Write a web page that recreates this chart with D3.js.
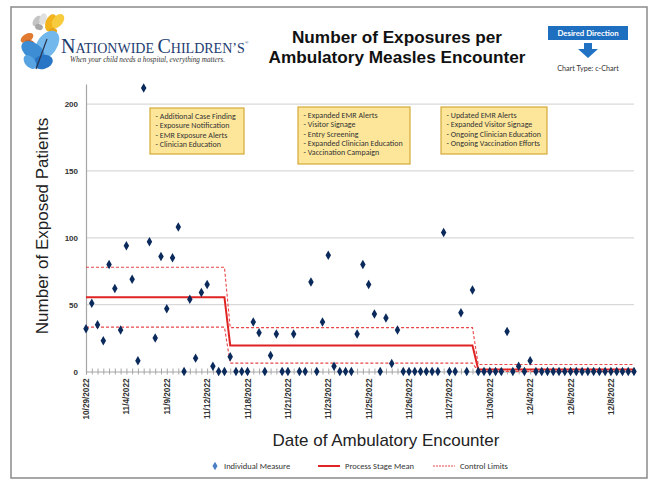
<!DOCTYPE html>
<html>
<head>
<meta charset="utf-8">
<script src="https://cdn.jsdelivr.net/npm/d3@7"></script>
<style>
  html, body { margin: 0; padding: 0; background: #fff; }
  svg { display: block; }
</style>
</head>
<body>
<svg id="chart" width="651" height="481"></svg>
<script>
// ---------------- DATA ----------------
const values = [
  32, 51, 35, 23, 80, 62, 31, 94, 69, 8,
  212, 97, 25, 86, 47, 85, 108, 0, 54, 10,
  59, 65, 4, 0, 0, 11, 0, 0, 0, 37,
  29, 0, 12, 28, 0, 0, 28, 0, 0, 67,
  0, 37, 87, 4, 0, 0, 0, 28, 80, 65,
  43, 0, 40, 6, 31, 0, 0, 0, 0, 0,
  0, 0, 104, 0, 0, 44, 0, 61, 0, 0,
  0, 0, 0, 30, 0, 4, 0, 8, 0, 0,
  0, 0, 0, 0, 0, 0, 0, 0, 0, 0,
  0, 0, 0, 0, 0, 0
];
const tickLabels = ["10/29/2022","11/4/2022","11/9/2022","11/12/2022","11/18/2022","11/21/2022",
  "11/23/2022","11/25/2022","11/26/2022","11/27/2022","11/30/2022","12/4/2022","12/6/2022","12/8/2022"];
const tickLabelStep = 7;
const stageStart = [0, 25, 68];
const stageMean = [55.6, 19.5, 1.5];
const stageUCL  = [78, 32.8, 5.2];
const stageLCL  = [33.2, 6.3, 0];
const yTicks = [0, 50, 100, 150, 200];
const annotations = [
  ["- Additional Case Finding", "- Exposure Notification", "- EMR Exposure Alerts", "- Clinician Education"],
  ["- Expanded EMR Alerts", "- Visitor Signage", "- Entry Screening", "- Expanded Clinician Education", "- Vaccination Campaign"],
  ["- Updated EMR Alerts", "- Expanded Visitor Signage", "- Ongoing Clinician Education", "- Ongoing Vaccination Efforts"]
];
const titleLines = ["Number of Exposures per", "Ambulatory Measles Encounter"];
const legendItems = ["Individual Measure", "Process Stage Mean", "Control Limits"];

// ---------------- SETUP ----------------
const svg = d3.select("#chart");
const x = d3.scaleLinear().domain([0, values.length - 1]).range([86, 634]);
const y = d3.scaleLinear().domain([0, 215]).range([371.5, 84]);

const stageOf = i => { let s = 0; stageStart.forEach((st, k) => { if (i >= st) s = k; }); return s; };
const idx = d3.range(values.length);

// outer frame
svg.append("rect").attr("x", 11).attr("y", 7).attr("width", 636).attr("height", 471)
  .attr("fill", "#fff").attr("stroke", "#8a8a8a").attr("stroke-width", 1.5);

// ---------------- LOGO ----------------
const logo = svg.append("g");
function wing(cx, cy, rx, ry, rot, fill) {
  logo.append("ellipse").attr("cx", cx).attr("cy", cy).attr("rx", rx).attr("ry", ry)
    .attr("transform", `rotate(${rot},${cx},${cy})`).attr("fill", fill);
}
// grey butterfly
wing(37, 21, 6, 3.5, -55, "#c4c4c4"); wing(43, 19, 6, 3.5, -75, "#e0e0e0"); wing(39, 27, 4, 3, 20, "#a8a8a8");
// yellow butterfly
wing(51, 23, 5.5, 9, 20, "#f2b31c"); wing(58, 21, 5, 8, 38, "#f7cb3e"); wing(53, 31, 4, 3, 0, "#e6a416");
// orange butterfly
wing(27, 38, 7, 4, -30, "#e07a30"); wing(30, 43, 5, 3, 20, "#c5622a");
// big blue butterfly
wing(47, 45, 16, 10, -55, "#72b8ec"); wing(33, 51, 13, 8, 35, "#3d8dd5");
wing(43, 62, 10, 7, -15, "#2775c4"); wing(30, 62, 8, 5, 50, "#58a3e2");
logo.append("path").attr("d", "M36,69 L47,39").attr("stroke", "#2b3550").attr("stroke-width", 1.2);

const brand = svg.append("text").attr("x", 61).attr("y", 53)
  .attr("font-family", "Liberation Serif, Times New Roman, serif").attr("fill", "#1d3c70");
brand.append("tspan").attr("font-size", 20).text("N");
brand.append("tspan").attr("font-size", 14).text("ATIONWIDE ");
brand.append("tspan").attr("font-size", 20).text("C");
brand.append("tspan").attr("font-size", 14).text("HILDREN\u2019S");
brand.append("tspan").attr("font-size", 5).attr("dy", -9).text("\u00AE");
svg.append("text").attr("x", 70).attr("y", 62)
  .attr("font-family", "Liberation Serif, serif").attr("font-style", "italic").attr("font-size", 7.2)
  .attr("fill", "#333").text("When your child needs a hospital, everything matters.");

// ---------------- TITLE ----------------
svg.selectAll(".title").data(titleLines).join("text").attr("class", "title")
  .attr("x", 397).attr("y", (d, i) => 43 + i * 20).attr("text-anchor", "middle")
  .attr("font-family", "Liberation Sans, Arial, sans-serif").attr("font-weight", "bold")
  .attr("font-size", 17.2).attr("fill", "#111").text(d => d);

// desired direction
svg.append("rect").attr("x", 548).attr("y", 26).attr("width", 80).attr("height", 14).attr("fill", "#1f6fc0");
svg.append("text").attr("x", 588).attr("y", 36).attr("text-anchor", "middle")
  .attr("font-family", "Lato, Open Sans, sans-serif").attr("font-weight", "bold").attr("font-size", 7.8)
  .attr("fill", "#fff").text("Desired Direction");
svg.append("path").attr("d", "M584,43 L592,43 L592,49 L598,49 L588,58 L578,49 L584,49 Z").attr("fill", "#2272c3");
svg.append("text").attr("x", 588).attr("y", 71).attr("text-anchor", "middle")
  .attr("font-family", "Lato, Open Sans, sans-serif").attr("font-size", 7.2).attr("fill", "#333")
  .text("Chart Type: c-Chart");

// ---------------- GRID & AXES ----------------
const plot = svg.append("g");
plot.selectAll(".grid").data(yTicks.filter(t => t > 0)).join("line").attr("class", "grid")
  .attr("x1", 86).attr("x2", 634).attr("y1", d => y(d)).attr("y2", d => y(d))
  .attr("stroke", "#d9d9d9").attr("stroke-width", 1.3);

const yAxis = plot.append("g").attr("transform", "translate(86,0)")
  .call(d3.axisLeft(y).tickValues(yTicks).tickSize(0).tickPadding(8));
yAxis.select(".domain").attr("stroke", "#a6a6a6").attr("stroke-width", 1.2);
yAxis.selectAll("text").attr("font-family", "Liberation Sans, Arial, sans-serif")
  .attr("font-weight", "bold").attr("font-size", 8).attr("fill", "#333");

const xAxis = plot.append("g").attr("transform", `translate(0,${y(0)})`)
  .call(d3.axisBottom(x).tickValues(idx).tickSize(3).tickFormat(""));
xAxis.select(".domain").attr("stroke", "#a6a6a6").attr("stroke-width", 1.2);
xAxis.selectAll(".tick line").attr("y1", -3).attr("stroke", "#a6a6a6");

plot.selectAll(".xlab").data(tickLabels).join("text").attr("class", "xlab")
  .attr("transform", (d, i) => `translate(${x(i * tickLabelStep) + 3},${y(0) + 7}) rotate(-90)`)
  .attr("text-anchor", "end")
  .attr("font-family", "Liberation Sans, Arial, sans-serif").attr("font-weight", "bold")
  .attr("font-size", 8.2).attr("fill", "#333").text(d => d);

// axis titles
svg.append("text").attr("transform", "translate(48,226) rotate(-90)").attr("text-anchor", "middle")
  .attr("font-family", "Liberation Sans, Arial, sans-serif").attr("font-size", 17).attr("fill", "#222")
  .text("Number of Exposed Patients");
svg.append("text").attr("x", 386).attr("y", 446).attr("text-anchor", "middle")
  .attr("font-family", "Liberation Sans, Arial, sans-serif").attr("font-size", 17).attr("fill", "#222")
  .text("Date of Ambulatory Encounter");

// ---------------- ANNOTATION BOXES ----------------
const boxPos = [[150, 108, 94, 46], [298, 107, 112, 57], [441, 107, 106, 47]];
annotations.forEach((lines, k) => {
  const [bx, by, bw, bh] = boxPos[k];
  const g = svg.append("g");
  g.append("rect").attr("x", bx).attr("y", by).attr("width", bw).attr("height", bh)
    .attr("fill", "#fde69a").attr("stroke", "#d4a93a").attr("stroke-width", 1.2);
  g.selectAll("text").data(lines).join("text").attr("x", bx + 5.5).attr("y", (d, i) => by + 11 + i * 9.3)
    .attr("font-family", "Carlito, Lato, sans-serif").attr("font-size", 8).attr("fill", "#333")
    .text(d => d);
});

// ---------------- LINES ----------------
const lineGen = acc => d3.line().x(i => x(i)).y(i => y(acc(i)));
plot.append("path").datum(idx).attr("fill", "none").attr("stroke", "#e8474a").attr("stroke-width", 1.1)
  .attr("stroke-dasharray", "3,2").attr("d", lineGen(i => stageUCL[stageOf(i)]));
plot.append("path").datum(idx).attr("fill", "none").attr("stroke", "#e8474a").attr("stroke-width", 1.1)
  .attr("stroke-dasharray", "3,2").attr("d", lineGen(i => stageLCL[stageOf(i)]));
plot.append("path").datum(idx).attr("fill", "none").attr("stroke", "#e02424").attr("stroke-width", 2)
  .attr("d", lineGen(i => stageMean[stageOf(i)]));

// ---------------- POINTS ----------------
const diamond = d3.symbol().type(d3.symbolDiamond).size(26);
plot.selectAll(".pt").data(values).join("path").attr("class", "pt")
  .attr("transform", (d, i) => `translate(${x(i)},${y(d)})`)
  .attr("d", diamond).attr("fill", "#0b2a5c");

// ---------------- LEGEND ----------------
const lg = svg.append("g").attr("font-family", "Carlito, Lato, sans-serif").attr("font-size", 8.5).attr("fill", "#333");
lg.append("path").attr("transform", "translate(215,466)").attr("d", d3.symbol().type(d3.symbolDiamond).size(22)).attr("fill", "#4a7fc1");
lg.append("text").attr("x", 224).attr("y", 469).text(legendItems[0]);
lg.append("line").attr("x1", 318).attr("x2", 340).attr("y1", 466).attr("y2", 466).attr("stroke", "#e02424").attr("stroke-width", 2);
lg.append("text").attr("x", 345).attr("y", 469).text(legendItems[1]);
lg.append("line").attr("x1", 433).attr("x2", 455).attr("y1", 466).attr("y2", 466).attr("stroke", "#e8474a").attr("stroke-width", 1).attr("stroke-dasharray", "2,1");
lg.append("text").attr("x", 460).attr("y", 469).text(legendItems[2]);
</script>
</body>
</html>
